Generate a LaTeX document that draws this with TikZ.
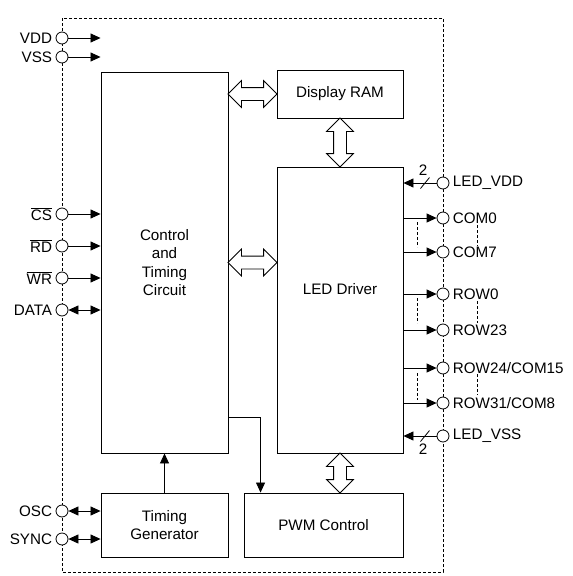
\documentclass[tikz,border=0pt]{standalone}
\usepackage{fontspec}
\setmainfont{Liberation Sans}
\usetikzlibrary{arrows.meta,shapes.arrows,calc}

\tikzset{
  blk/.style={draw, line width=0.9pt, align=center, inner sep=0pt},
  pad/.style={circle, draw, fill=white, line width=0.8pt, minimum size=12pt, inner sep=0pt},
  bus/.style={double arrow, draw, line width=0.8pt, fill=white, inner sep=6pt, minimum width=0pt,
    double arrow head extend=7pt, double arrow head indent=0pt},
  sig/.style={line width=0.8pt, -{Triangle[length=10pt,width=9pt]}},
  bisig/.style={line width=0.8pt, {Triangle[length=10pt,width=9pt]}-{Triangle[length=10pt,width=9pt]}},
  dots/.style={line width=0.8pt, dash pattern=on 3pt off 2pt},
}

\begin{document}
\begin{tikzpicture}[x=1pt, y=-1pt, font=\fontsize{15.2}{18.5}\selectfont, line join=miter]
\useasboundingbox (0,0) rectangle (573,576);
% chip outline
\draw[dots] (62,18) rectangle (443,572);

% blocks
\node[blk, minimum width=127, minimum height=381] (control) at (164.5,262.5) {Control\\and\\Timing\\Circuit};
\node[blk, minimum width=127, minimum height=64] (timing) at (164.5,525) {Timing\\Generator};
\node[blk, minimum width=126, minimum height=48] (ram) at (340,94) {Display RAM};
\node[blk, minimum width=126, minimum height=286,
  label={[name=drvtxt, yshift=21pt]center:LED Driver}] (driver) at (340,310) {};
\node[blk, minimum width=159, minimum height=64] (pwm) at (323.5,525) {PWM Control};

% buses
\node[bus, minimum height=49] at ($(ram.west)!0.5!(ram.west -| control.east)$) {};
\node[bus, minimum height=49] at ($(control.east)!0.5!(control.east -| driver.west)$) {};
\node[bus, minimum height=49, rotate=90] at ($(ram.south)!0.5!(driver.north)$) {};
\node[bus, minimum height=40, rotate=90] at ($(driver.south)!0.5!(driver.south |- pwm.north)$) {};

\draw[sig] (timing.north) -- (control.south);
\draw[sig] ($(control.south east)+(0,-36)$) -| ($(pwm.north west)+(17,0)$);

% left pins
\node[pad, label={[label distance=0pt]left:VDD}] (vdd) at (62,38) {};
\node[pad, label={[label distance=0pt]left:VSS}] (vss) at (62,57) {};
\node[pad, label={[label distance=0pt]left:$\overline{\hbox{CS}}$}] (cs) at (62,214) {};
\node[pad, label={[label distance=0pt]left:$\overline{\hbox{RD}}$}] (rd) at (62,246) {};
\node[pad, label={[label distance=0pt]left:$\overline{\hbox{WR}}$}] (wr) at (62,278) {};
\node[pad, label={[label distance=0pt]left:DATA}] (data) at (62,310) {};
\node[pad, label={[label distance=0pt]left:OSC}] (osc) at (62,511) {};
\node[pad, label={[label distance=0pt]left:SYNC}] (sync) at (62,539) {};

\foreach \p in {vdd,vss,cs,rd,wr}
  \draw[sig] (\p.east) -- (\p.east -| control.west);
\draw[bisig] (data.east) -- (data.east -| control.west);
\draw[bisig] (osc.east) -- (osc.east -| timing.west);
\draw[bisig] (sync.east) -- (sync.east -| timing.west);

% right pins
\node[pad, label={[label distance=0pt]right:LED\_VDD}] (ledvdd) at (443,183) {};
\node[pad, label={[label distance=0pt]right:COM0}] (com0) at (443,218) {};
\node[pad, label={[label distance=0pt]right:COM7}] (com7) at (443,252) {};
\node[pad, label={[label distance=0pt]right:ROW0}] (row0) at (443,294) {};
\node[pad, label={[label distance=0pt]right:ROW23}] (row23) at (443,330) {};
\node[pad, label={[label distance=0pt]right:ROW24/COM15}] (row24) at (443,368) {};
\node[pad, label={[label distance=0pt]right:ROW31/COM8}] (row31) at (443,403) {};
\node[pad, label={[label distance=0pt]right:LED\_VSS}] (ledvss) at (443,436) {};

\foreach \p in {com0,com7,row0,row23,row24,row31}
  \draw[sig] (\p.west -| driver.east) -- (\p.west);
\draw[sig] (ledvdd.west) -- (ledvdd.west -| driver.east);
\draw[sig] (ledvss.west) -- (ledvss.west -| driver.east);

% 2-wire marks
\draw[line width=0.8pt] ($(ledvdd)+(-22.5,5.5)$) -- ++(9,-11);
\node (nvdd) at ($(ledvdd)+(-20,-13)$) {2};
\draw[line width=0.8pt] ($(ledvss)+(-22.5,5.5)$) -- ++(9,-11);
\node (nvss) at ($(ledvss)+(-20,13)$) {2};

% omitted pins
\draw[dots] ($(com0 -| driver.east)+(14,4)$) -- ($(com7 -| driver.east)+(14,-5)$);
\draw[dots] ($(com0)+(34,7)$) -- ($(com7)+(34,-6)$);
\draw[dots] ($(row0 -| driver.east)+(14,4)$) -- ($(row23 -| driver.east)+(14,-7)$);
\draw[dots] ($(row0)+(34,7)$) -- ($(row23)+(34,-7)$);
\draw[dots] ($(row24 -| driver.east)+(14,5)$) -- ($(row31 -| driver.east)+(14,-3)$);
\draw[dots] ($(row24)+(34,6)$) -- ($(row31)+(34,-8)$);
\end{tikzpicture}
\end{document}
